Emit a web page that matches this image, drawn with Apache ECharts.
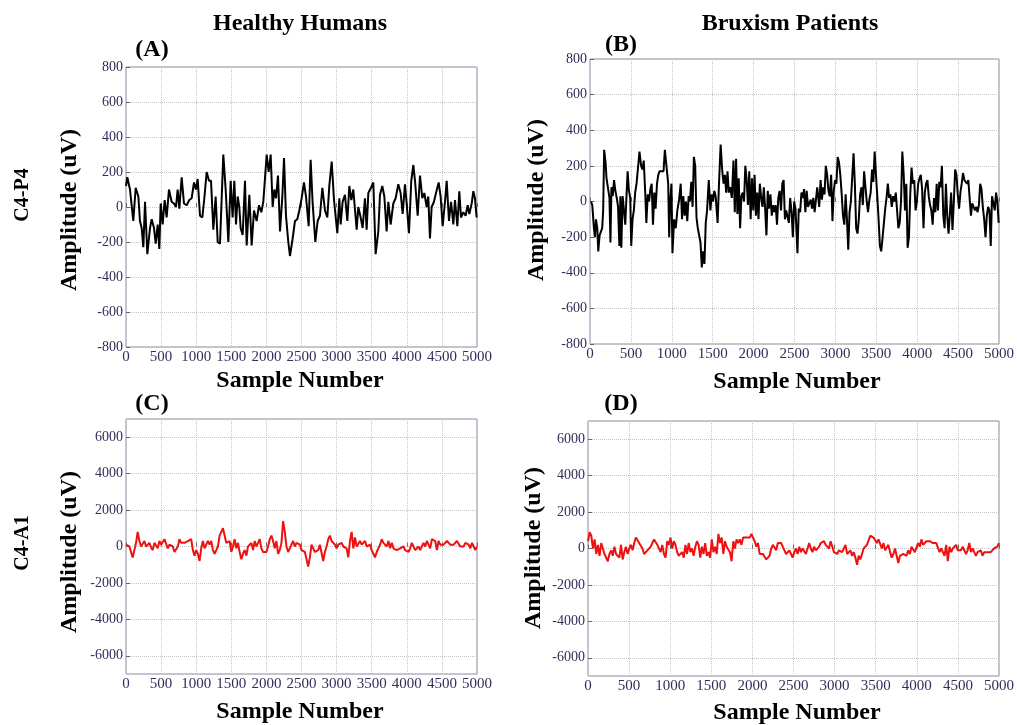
<!DOCTYPE html>
<html>
<head>
<meta charset="utf-8">
<script src="https://cdn.jsdelivr.net/npm/echarts@6/dist/echarts.min.js"></script>
<style>
html,body{margin:0;padding:0;background:#fff;}
#chart{width:1017px;height:725px;}
</style>
</head>
<body>
<div id="chart"></div>
<script>
// ---------- data ----------
const columnTitles = ['Healthy Humans', 'Bruxism Patients'];
const rowTitles = ['C4-P4', 'C4-A1'];
const panelLabels = ['(A)', '(B)', '(C)', '(D)'];
const xTitle = 'Sample Number';
const yTitle = 'Amplitude (uV)';

const xTicks = [0, 5000, 500];           // min, max, step
const yTicksTop = [-800, 800, 200];      // min, max, step
const yRangeBottom = [-7000, 7000];
const yTickValuesBottom = [-6000, -4000, -2000, 0, 2000, 4000, 6000];

// (A) Healthy, C4-P4
const A_samples = [0,19,57,81,104,138,176,199,223,247,
271,304,342,366,399,423,451,475,494,522,
551,579,612,650,684,712,736,760,793,826,
864,902,935,969,997,1021,1054,1087,1116,1149,
1182,1211,1244,1277,1306,1339,1386,1420,1458,1491,
1519,1543,1567,1591,1614,1633,1662,1695,1719,1757,
1790,1823,1861,1894,1928,1956,2004,2032,2061,2089,
2113,2137,2165,2194,2227,2251,2279,2312,2336,2374,
2407,2440,2469,2502,2535,2564,2602,2630,2659,2697,
2730,2763,2797,2835,2868,2896,2930,2963,2991,3010,
3039,3058,3086,3119,3153,3181,3210,3238,3286,3309,
3343,3371,3404,3428,3452,3490,3523,3556,3594,3618,
3651,3680,3713,3737,3770,3808,3841,3879,3912,3941,
3974,3998,4031,4064,4093,4117,4155,4188,4221,4250,
4283,4306,4330,4354,4387,4416,4454,4482,4511,4544,
4568,4601,4630,4663,4686,4720,4748,4772,4805,4838,
4867,4891,4924,4948,4971,4995];
const A_values = [120,170,100,90,-80,110,60,-80,-120,-230,
30,-270,-120,-70,-120,-210,-100,-240,20,-100,
40,-60,100,30,20,0,100,-10,170,20,
10,40,50,140,100,160,-50,-60,50,200,
150,150,-130,60,-200,-210,300,100,-200,150,
-60,150,-100,60,0,-120,-160,150,-220,70,
-220,-20,-80,10,-30,30,300,200,300,0,
100,50,180,-140,60,280,-50,-200,-280,-180,
-80,-70,-20,50,140,60,-110,270,20,-200,
-80,-50,110,-20,-60,120,260,40,30,-150,
50,-100,30,70,-80,120,40,100,-130,0,
-60,-120,50,-130,80,110,140,-270,-140,70,
120,60,-140,30,-100,20,50,130,80,-40,
130,20,-150,150,240,150,-50,180,50,80,
0,60,-180,0,30,80,140,60,-110,30,
150,-80,30,-100,40,-110,90,-60,-30,-50,
10,-40,20,90,50,-60];

// (B) Bruxism, C4-P4
const B_samples = [12,28,48,60,73,89,101,117,133,149,
161,173,190,202,222,238,250,262,278,294,
310,327,343,359,371,383,399,415,431,448,
460,476,492,504,520,536,552,569,585,605,
625,641,657,677,689,706,722,738,754,770,
786,802,819,835,851,875,899,915,939,956,
968,980,996,1008,1028,1048,1068,1089,1109,1125,
1141,1157,1173,1189,1206,1222,1238,1254,1270,1286,
1302,1318,1335,1351,1367,1383,1399,1415,1431,1452,
1472,1488,1504,1520,1536,1560,1577,1597,1617,1633,
1649,1665,1681,1697,1714,1734,1754,1770,1786,1802,
1818,1835,1851,1867,1883,1899,1915,1931,1947,1964,
1980,1996,2012,2028,2044,2060,2076,2093,2109,2125,
2141,2157,2173,2189,2206,2222,2238,2254,2270,2286,
2302,2318,2335,2351,2367,2383,2399,2415,2431,2447,
2464,2480,2496,2512,
2536,2552,2569,2585,2601,2617,2633,2649,2665,2681,
2698,2714,2730,2746,2762,2778,2802,2819,2835,2851,
2867,2883,2899,2915,2931,2948,2964,2980,2996,3012,
3028,3044,3060,3077,3093,3109,3125,3141,3157,3173,
3189,3206,3222,3238,3254,3270,3286,3302,3319,3335,
3351,3367,3383,3399,3415,3431,3448,3464,3480,3496,
3512,3528,3544,3560,3577,3593,3609,3625,3641,3657,
3673,3689,3706,3722,3738,3754,3770,3786,3802,3818,
3835,3851,3867,3883,3899,3915,3931,3947,3964,3980,
3996,4012,4028,4044,4060,4077,4093,4109,4125,4141,
4157,4173,4189,4206,4222,4238,4254,4270,4286,4302,
4319,4335,4351,4367,4383,4399,4415,4431,4448,4464,
4480,4496,4512,4528,4544,4560,4577,4593,4609,4625,
4641,4657,4673,4689,4706,4722,4738,4754,4770,4786,
4802,4819,4835,4851,4867,4883,4899,4915,4931,4948,
4964,4980,4996];
const B_values = [0,-20,-150,-200,-100,-150,-280,-190,-200,-150,
-50,290,220,130,120,20,-230,80,30,120,
60,20,-30,-250,30,-260,30,20,-130,50,
170,60,20,-250,-100,-50,50,100,180,280,
200,180,230,30,-120,40,0,70,100,-130,
50,-40,100,150,170,160,170,290,290,100,
-200,0,100,-290,-100,-150,-50,10,100,-100,
30,-80,0,-110,30,0,110,-30,250,200,
-90,-150,-150,-230,-370,-280,-350,-120,-50,120,
-50,40,0,60,30,-120,100,320,170,100,
150,50,170,50,80,20,230,-60,240,-70,
130,-150,30,50,0,200,120,-20,170,-100,
130,-50,150,-80,50,-100,100,20,-30,80,
-40,-190,60,-40,40,-80,-20,-60,-20,-130,
20,60,-50,100,120,-100,-50,-50,-120,20,
-60,-200,0,-40,
-290,-40,-60,50,20,70,-60,60,-30,-10,
10,-40,20,-60,-70,80,-30,120,10,80,
40,200,150,60,30,150,-110,60,120,100,
250,220,150,40,-80,-130,40,-100,-270,-60,
0,10,270,100,-150,-180,-100,40,80,-20,
170,160,0,-60,10,50,180,110,280,150,
30,-100,-250,-280,-200,-120,-40,20,100,20,
40,-30,30,0,50,60,-150,-120,0,280,
150,-50,100,-260,-200,40,190,100,120,-50,
0,100,130,150,70,-150,50,100,120,30,
-20,-50,-130,20,-60,100,-50,110,80,200,
-80,-150,100,-80,-180,-70,50,-160,0,180,
150,40,-40,50,100,160,120,120,100,120,
110,-80,-10,-30,-50,-30,-60,-20,100,70,
-30,-100,-200,-80,-30,-50,-250,30,40,-50,
50,0,-120];

// (C) Healthy, C4-A1 — evenly sampled across 0..5000
const C_values = [100,200,0,-300,-600,-200,200,800,300,0,
-100,300,0,100,200,-50,-200,200,200,-100,
300,100,100,400,300,-100,100,0,0,-300,
-200,0,400,200,100,200,300,300,350,400,
-200,-500,-200,-400,-800,-100,300,-100,0,300,
100,300,-200,-400,-200,0,600,500,1000,600,
200,100,300,-300,0,400,-100,200,-300,-700,
-400,-200,-500,0,100,200,-200,300,0,200,
400,-100,-300,-300,-300,0,400,600,300,-100,
300,-400,-200,200,1400,800,0,-300,-400,100,
300,0,200,
200,100,-200,-300,-300,-700,-1100,-600,100,0,
-300,-200,-200,100,0,-800,-300,0,400,600,
300,200,100,-100,100,0,200,0,100,-100,
-600,300,800,-100,500,0,100,300,100,0,
300,0,100,100,-200,-400,-600,-300,-300,100,
400,200,200,0,300,-100,200,-100,0,-200,
-300,-100,-200,0,-200,-300,-300,-100,200,300,
-200,-300,0,-200,-100,200,0,300,400,-100,
400,500,300,-200,300,100,0,100,200,300,
200,100,0,100,200,300,200,0,-100,0,
200,300,100,-100,200,0,-200,0];

// (D) Bruxism, C4-A1 — evenly sampled across 0..5000
const D_values = [400,900,700,0,500,-300,200,-400,300,0,
-300,-200,-700,-300,-100,-400,100,-300,-200,-500,
200,-600,-200,100,-300,0,200,-100,300,600,
500,300,300,0,-300,-200,-100,0,100,300,
500,400,200,0,-200,200,-300,-500,400,200,
600,0,400,200,-200,-400,-300,-200,-500,200,
-300,300,-200,0,-400,100,400,200,-500,100,
-300,300,-400,-200,-500,500,-200,100,-300,800,
300,600,-300,400,100,0,-200,-700,400,0,
500,300,500,200,600,700,600,700,600,800,
600,400,100,300,-300,-200,-300,-400,-600,-700,
-400,0,200,100,-100,300,200,300,100,-100,
-300,-200,-100,-300,-500,-200,0,-300,100,-200,
0,100,-300,0,300,0,-200,100,-100,0,
100,300,200,400,200,300,0,400,500,-200,
-100,-300,-100,-200,-200,-100,200,-300,-200,-100,
-400,-200,-500,-900,-400,-600,-300,0,100,200,
300,700,600,600,500,300,500,400,0,300,
-100,0,200,-200,-500,-300,0,-400,-800,-400,
-500,-300,-300,-400,-100,-300,100,200,-200,-100,
300,100,500,200,300,400,300,400,500,300,
400,300,200,-200,0,-100,-400,200,-700,100,
-200,0,-100,200,-100,0,-100,100,0,-300,
-100,300,-200,0,-200,-400,-200,-300,-100,-400,
-200,-300,-200,-100,-200,-100,0,0,100,300];

// ---------- build ----------
function zip(s, v) {
  const n = Math.min(s.length, v.length);
  const out = [];
  for (let i = 0; i < n; i++) out.push([s[i], v[i]]);
  return out;
}
function evenSamples(values) {
  return values.map((_, i) => i * xTicks[1] / (values.length - 1));
}

const FONT = '"Liberation Serif", "Times New Roman", serif';
const LABEL_COLOR = '#2f2f5a';
const GRID_COLOR = '#c4c4c4';
const plain = v => String(v);

const grids = [
  { left: 126, right: 540, top: 67, bottom: 378 },
  { left: 590, right: 14, top: 59, bottom: 381 },
  { left: 126, right: 540, top: 419, bottom: 51 },
  { left: 588, right: 14, top: 421, bottom: 49 }
].map(g => Object.assign(g, { show: true, borderColor: '#8a8aa2', borderWidth: 1, backgroundColor: '#fff' }));

const xAxes = [0, 1, 2, 3].map(i => ({
  type: 'value', gridIndex: i, min: xTicks[0], max: xTicks[1], interval: xTicks[2],
  axisLine: { show: false },
  axisTick: { show: true, inside: true, length: 4, lineStyle: { color: '#666' } },
  axisLabel: { color: LABEL_COLOR, fontFamily: FONT, fontSize: 15, margin: 3, showMinLabel: true, showMaxLabel: true, formatter: plain },
  splitLine: { show: true, lineStyle: { type: 'dotted', color: GRID_COLOR, width: 1 } }
}));

function topY(i) {
  return {
    type: 'value', gridIndex: i, min: yTicksTop[0], max: yTicksTop[1], interval: yTicksTop[2],
    axisLine: { show: false },
    axisTick: { show: true, inside: true, length: 4, lineStyle: { color: '#666' } },
    axisLabel: { color: LABEL_COLOR, fontFamily: FONT, fontSize: 14, margin: 3, showMinLabel: true, showMaxLabel: true, formatter: plain },
    splitLine: { show: true, lineStyle: { type: 'dotted', color: GRID_COLOR, width: 1 } }
  };
}
function bottomY(i) {
  return {
    type: 'value', gridIndex: i, min: yRangeBottom[0], max: yRangeBottom[1],
    axisLine: { show: false },
    axisTick: { show: true, inside: true, length: 4, lineStyle: { color: '#666' }, customValues: yTickValuesBottom },
    axisLabel: { color: LABEL_COLOR, fontFamily: FONT, fontSize: 14, margin: 3, customValues: yTickValuesBottom, formatter: plain },
    splitLine: { show: true, lineStyle: { type: 'dotted', color: GRID_COLOR, width: 1 }, customValues: yTickValuesBottom }
  };
}
const yAxes = [topY(0), topY(1), bottomY(2), bottomY(3)];

function lineSeries(i, data, color) {
  return {
    type: 'line', xAxisIndex: i, yAxisIndex: i, data: data,
    showSymbol: false, symbol: 'none', animation: false, silent: true,
    lineStyle: { color: color, width: 2 }
  };
}
const series = [
  lineSeries(0, zip(A_samples, A_values), '#000000'),
  lineSeries(1, zip(B_samples, B_values), '#000000'),
  lineSeries(2, zip(evenSamples(C_values), C_values), '#ee1111'),
  lineSeries(3, zip(evenSamples(D_values), D_values), '#ee1111')
];

function txt(text, x, y, size, rot) {
  return {
    type: 'text', x: x, y: y, rotation: rot ? Math.PI / 2 : 0, silent: true,
    style: { text: text, font: 'bold ' + size + 'px ' + FONT, fill: '#000', align: 'center', verticalAlign: 'middle' }
  };
}
const graphic = [
  txt(columnTitles[0], 300, 24, 24),
  txt(columnTitles[1], 790, 24, 24),
  txt(panelLabels[0], 152, 50, 24),
  txt(panelLabels[1], 621, 45, 24),
  txt(panelLabels[2], 152, 404, 24),
  txt(panelLabels[3], 621, 404, 24),
  txt(rowTitles[0], 23, 195, 20, true),
  txt(rowTitles[1], 23, 543, 20, true),
  txt(yTitle, 70, 210, 24, true),
  txt(yTitle, 537, 200, 24, true),
  txt(yTitle, 70, 552, 24, true),
  txt(yTitle, 534, 548, 24, true),
  txt(xTitle, 300, 381, 24),
  txt(xTitle, 797, 382, 24),
  txt(xTitle, 300, 712, 24),
  txt(xTitle, 797, 713, 24)
];

const chart = echarts.init(document.getElementById('chart'), null, { renderer: 'canvas' });
chart.setOption({
  animation: false,
  backgroundColor: '#fff',
  grid: grids,
  xAxis: xAxes,
  yAxis: yAxes,
  series: series,
  graphic: graphic
});
</script>
</body>
</html>
